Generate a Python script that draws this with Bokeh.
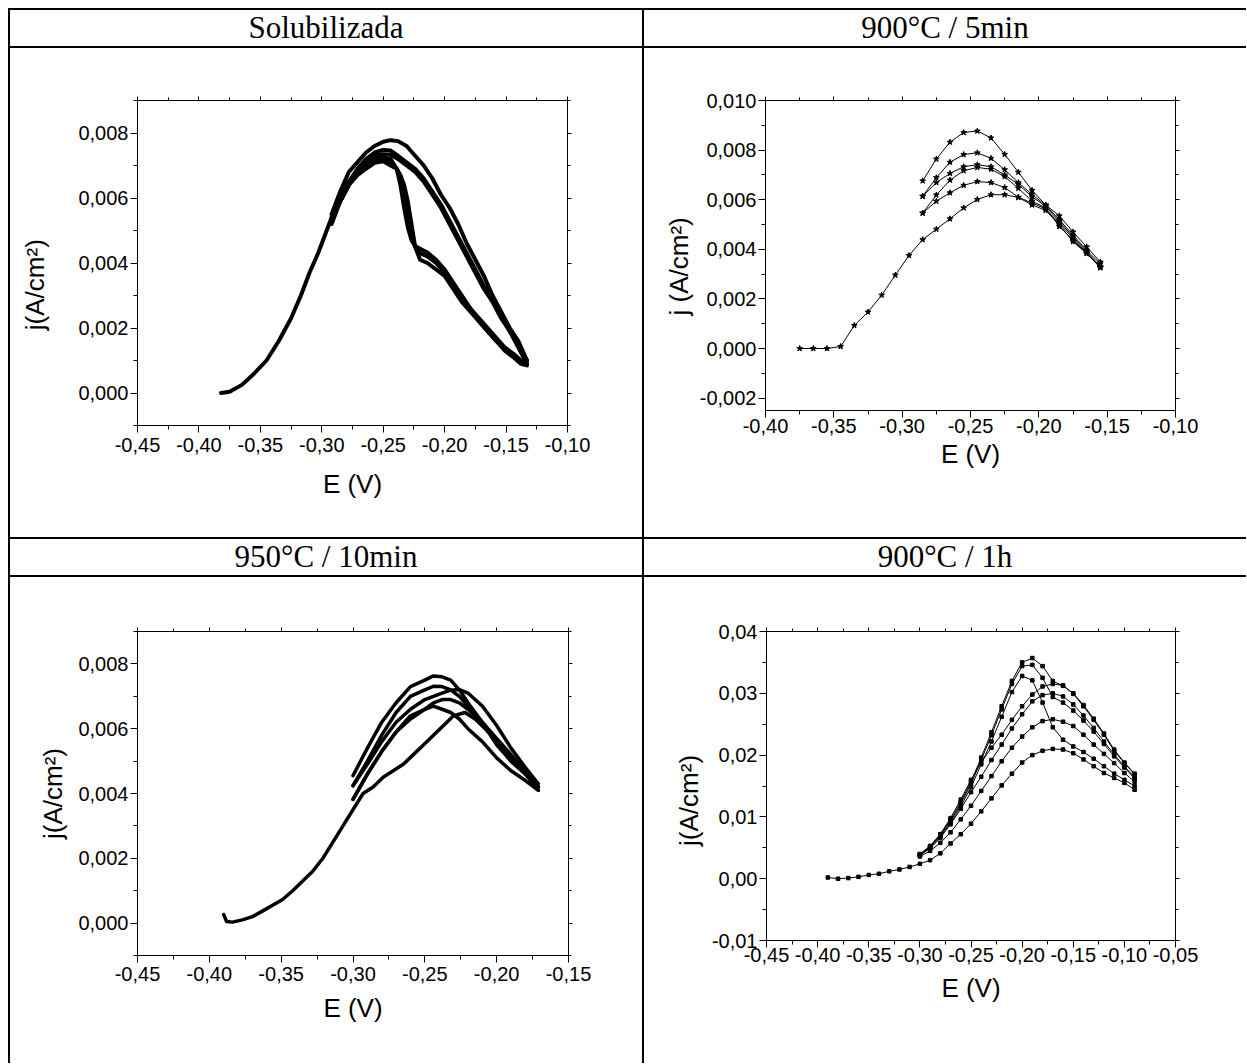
from bokeh.plotting import figure
from bokeh.models import LinearAxis, FixedTicker, CustomJSTickFormatter, Range1d, Div, Spacer
from bokeh.layouts import row, column
from bokeh.embed import file_html
from bokeh.resources import INLINE

# ---------------- titles ----------------
TITLES = ["Solubilizada", "900°C / 5min", "950°C / 10min", "900°C / 1h"]
XLABEL = "E (V)"
YLABELS = ["j(A/cm²)", "j (A/cm²)", "j(A/cm²)", "j(A/cm²)"]

# ---------------- panel 1 : Solubilizada ----------------
SOL_XTICKS = [-0.45, -0.40, -0.35, -0.30, -0.25, -0.20, -0.15, -0.10]
SOL_XMINOR = [-0.425, -0.375, -0.325, -0.275, -0.225, -0.175, -0.125]
SOL_YTICKS = [0.000, 0.002, 0.004, 0.006, 0.008]
SOL_YMINOR = [-0.001, 0.001, 0.003, 0.005, 0.007, 0.009]

sol_base_x = [-0.382, -0.375, -0.365, -0.355, -0.345, -0.335, -0.325, -0.317, -0.310, -0.303, -0.297,
              -0.292, -0.285, -0.278, -0.271, -0.264, -0.257, -0.250, -0.244, -0.239, -0.236, -0.233,
              -0.230, -0.227, -0.224, -0.220, -0.214, -0.207, -0.200, -0.193, -0.186, -0.179, -0.172,
              -0.165, -0.158, -0.151, -0.144, -0.138, -0.133]
sol_base_y = [0.0000, 0.00004, 0.00025, 0.0006, 0.0010, 0.0016, 0.0023, 0.0030, 0.0037, 0.0043, 0.0049,
              0.0054, 0.0059, 0.0064, 0.0067, 0.0069, 0.00708, 0.00713, 0.0070, 0.0069, 0.0067, 0.0064,
              0.0059, 0.0052, 0.0045, 0.0041, 0.0040, 0.0038, 0.0036, 0.0032, 0.0028, 0.0025, 0.0022,
              0.0019, 0.0016, 0.0013, 0.0011, 0.0009, 0.00085]
sol_drop_x = [-0.292, -0.285, -0.278, -0.271, -0.264, -0.257, -0.250, -0.244, -0.239, -0.236, -0.233,
              -0.230, -0.227, -0.224, -0.220, -0.214, -0.207, -0.200, -0.193, -0.186, -0.179, -0.172,
              -0.165, -0.158, -0.151, -0.144, -0.138, -0.133]
sol_drop1_y = [0.0053, 0.0059, 0.0064, 0.0068, 0.0071, 0.00723, 0.00725, 0.0072, 0.0069, 0.0064, 0.0057,
               0.0051, 0.0047, 0.00452, 0.00444, 0.00432, 0.0041, 0.0038, 0.0034, 0.0030, 0.0026, 0.0023,
               0.0020, 0.0017, 0.0014, 0.0012, 0.0010, 0.0009]
sol_drop2_y = [0.0054, 0.0060, 0.0065, 0.0068, 0.0070, 0.00716, 0.0072, 0.0071, 0.0069, 0.0066, 0.0061,
               0.0055, 0.0049, 0.0045, 0.0043, 0.0042, 0.0040, 0.0037, 0.0033, 0.0029, 0.0026, 0.0022,
               0.0019, 0.0016, 0.0014, 0.0012, 0.0010, 0.0009]
sol_smooth_x = [-0.292, -0.285, -0.278, -0.271, -0.264, -0.257, -0.250, -0.244, -0.238, -0.231, -0.224,
                -0.217, -0.210, -0.203, -0.196, -0.189, -0.182, -0.175, -0.168, -0.161, -0.154, -0.147,
                -0.140, -0.133]
sol_smooth1_y = [0.0055, 0.0062, 0.0068, 0.0071, 0.0074, 0.0076, 0.00773, 0.00778, 0.00775, 0.0076, 0.0073,
                 0.0070, 0.0066, 0.0061, 0.0057, 0.0052, 0.0046, 0.0041, 0.0036, 0.0030, 0.0025, 0.0020,
                 0.0016, 0.0010]
sol_smooth2_y = [0.0053, 0.0060, 0.0065, 0.0069, 0.0072, 0.0074, 0.00748, 0.00746, 0.0073, 0.0071, 0.0069,
                 0.0066, 0.0062, 0.0058, 0.0053, 0.0048, 0.0043, 0.0038, 0.0033, 0.0029, 0.0024, 0.0019,
                 0.0015, 0.0010]
sol_smooth3_y = [0.0052, 0.0059, 0.0064, 0.0068, 0.0071, 0.0073, 0.00735, 0.00733, 0.0072, 0.0070, 0.0068,
                 0.0065, 0.0061, 0.0057, 0.0052, 0.0047, 0.0042, 0.0037, 0.0032, 0.0028, 0.0023, 0.0019,
                 0.0014, 0.0009]

# ---------------- panel 2 : 900°C / 5min ----------------
T5_XTICKS = [-0.40, -0.35, -0.30, -0.25, -0.20, -0.15, -0.10]
T5_XMINOR = [-0.375, -0.325, -0.275, -0.225, -0.175, -0.125]
T5_YTICKS = [-0.002, 0.000, 0.002, 0.004, 0.006, 0.008, 0.010]
T5_YMINOR = [-0.001, 0.001, 0.003, 0.005, 0.007, 0.009]

t5_base_x = [-0.375, -0.365, -0.355, -0.345, -0.335, -0.325, -0.315, -0.305, -0.295, -0.285, -0.275,
             -0.265, -0.255, -0.245, -0.235, -0.225, -0.215, -0.205, -0.195, -0.185, -0.175, -0.165, -0.155]
t5_base_y = [0.0000, 0.0000, 0.0000, 0.00008, 0.00093, 0.00147, 0.00215, 0.00296, 0.00375, 0.00439, 0.00481,
             0.00523, 0.00567, 0.00601, 0.00620, 0.00620, 0.00609, 0.00579, 0.00557, 0.00499, 0.00431,
             0.00383, 0.00326]
t5_x = [-0.285, -0.275, -0.265, -0.255, -0.245, -0.235, -0.225, -0.215, -0.205, -0.195, -0.185, -0.175,
        -0.165, -0.155]
t5_a_y = [0.00676, 0.00764, 0.00832, 0.00871, 0.00877, 0.00849, 0.00783, 0.00711, 0.00638, 0.00579, 0.00535,
          0.00470, 0.00410, 0.00349]
t5_b_y = [0.00614, 0.00689, 0.00751, 0.00782, 0.00789, 0.00767, 0.00721, 0.00669, 0.00621, 0.00578, 0.00519,
          0.00458, 0.00396, 0.00342]
t5_c_y = [0.00614, 0.00669, 0.00706, 0.00733, 0.00741, 0.00733, 0.00700, 0.00662, 0.00612, 0.00574, 0.00512,
          0.00451, 0.00390, 0.00331]
t5_d_y = [0.00546, 0.00619, 0.00679, 0.00717, 0.00730, 0.00723, 0.00693, 0.00646, 0.00594, 0.00567, 0.00492,
          0.00437, 0.00383, 0.00328]
t5_e_y = [0.00546, 0.00594, 0.00628, 0.00658, 0.00673, 0.00669, 0.00649, 0.00610, 0.00587, 0.00563, 0.00505,
          0.00444, 0.00386, 0.00326]

# ---------------- panel 3 : 950°C / 10min ----------------
T10_XTICKS = [-0.45, -0.40, -0.35, -0.30, -0.25, -0.20, -0.15]
T10_XMINOR = [-0.425, -0.375, -0.325, -0.275, -0.225, -0.175]
T10_YTICKS = [0.000, 0.002, 0.004, 0.006, 0.008]
T10_YMINOR = [-0.001, 0.001, 0.003, 0.005, 0.007, 0.009]

t10_base_x = [-0.390, -0.388, -0.384, -0.377, -0.370, -0.363, -0.356, -0.349, -0.342, -0.335, -0.328,
              -0.321, -0.314, -0.307, -0.300, -0.293, -0.286, -0.279, -0.272, -0.265, -0.258, -0.251,
              -0.244, -0.237, -0.230, -0.222, -0.215, -0.208, -0.200, -0.190, -0.180, -0.171]
t10_base_y = [0.00026, 0.00005, 0.00003, 0.0001, 0.0002, 0.00037, 0.00055, 0.00073, 0.0010, 0.0013, 0.0016,
              0.0020, 0.0025, 0.0030, 0.0035, 0.0040, 0.0042, 0.0045, 0.0047, 0.0049, 0.0052, 0.0055,
              0.0058, 0.0061, 0.0064, 0.0065, 0.0063, 0.0060, 0.0056, 0.0051, 0.0046, 0.0041]
t10_x = [-0.300, -0.290, -0.280, -0.270, -0.260, -0.250, -0.244, -0.238, -0.232, -0.226, -0.220, -0.210,
         -0.200, -0.190, -0.180, -0.171]
t10_c1_y = [0.00455, 0.0054, 0.0062, 0.0068, 0.0073, 0.0075, 0.00763, 0.0076, 0.0075, 0.0072, 0.0068, 0.0062,
            0.0055, 0.0050, 0.0046, 0.0042]
t10_c2_y = [0.00424, 0.0050, 0.0058, 0.0065, 0.0070, 0.0072, 0.00731, 0.0073, 0.0072, 0.0070, 0.0067, 0.0062,
            0.0056, 0.0050, 0.0046, 0.0042]
t10_c3_y = [0.00424, 0.0049, 0.0056, 0.0062, 0.0066, 0.0069, 0.0070, 0.0071, 0.00719, 0.00721, 0.0071, 0.0067,
            0.0061, 0.0054, 0.0048, 0.0043]
t10_c4_y = [0.00382, 0.0046, 0.0053, 0.0059, 0.0063, 0.0066, 0.0068, 0.0069, 0.0069, 0.0068, 0.0066, 0.0062,
            0.0057, 0.0052, 0.0047, 0.0042]
t10_c5_y = [0.00382, 0.0046, 0.0053, 0.0059, 0.0064, 0.0066, 0.0067, 0.0066, 0.0065, 0.0063, 0.0060, 0.0056,
            0.0051, 0.0047, 0.0044, 0.0041]

# ---------------- panel 4 : 900°C / 1h ----------------
T1H_XTICKS = [-0.45, -0.40, -0.35, -0.30, -0.25, -0.20, -0.15, -0.10, -0.05]
T1H_XMINOR = [-0.425, -0.375, -0.325, -0.275, -0.225, -0.175, -0.125, -0.075]
T1H_YTICKS = [-0.01, 0.00, 0.01, 0.02, 0.03, 0.04]
T1H_YMINOR = [-0.005, 0.005, 0.015, 0.025, 0.035]

t1h_base_x = [-0.39, -0.38, -0.37, -0.36, -0.35, -0.34, -0.33, -0.32, -0.31, -0.30, -0.29, -0.28, -0.27,
              -0.26, -0.25, -0.24, -0.23, -0.22, -0.21, -0.20, -0.19, -0.18, -0.17, -0.16, -0.15, -0.14,
              -0.13, -0.12, -0.11, -0.10, -0.09]
t1h_base_y = [0.0002, 0.0000, 0.0001, 0.0003, 0.0006, 0.0008, 0.0012, 0.0015, 0.0019, 0.0024, 0.0030, 0.0041,
              0.0057, 0.0072, 0.0089, 0.0109, 0.0130, 0.0151, 0.0170, 0.0188, 0.0200, 0.0207, 0.0210, 0.0209,
              0.0203, 0.0193, 0.0182, 0.0171, 0.0163, 0.0155, 0.0144]
t1h_x = [-0.30, -0.29, -0.28, -0.27, -0.26, -0.25, -0.24, -0.23, -0.22, -0.21, -0.20, -0.19, -0.18, -0.17,
         -0.16, -0.15, -0.14, -0.13, -0.12, -0.11, -0.10, -0.09]
t1h_p1_y = [0.0040, 0.0053, 0.0072, 0.0095, 0.0124, 0.0157, 0.0196, 0.0237, 0.0279, 0.0320, 0.0350, 0.0357,
            0.0344, 0.0320, 0.0312, 0.0300, 0.0281, 0.0259, 0.0235, 0.0209, 0.0188, 0.0170]
t1h_p2_y = [0.0039, 0.0051, 0.0070, 0.0093, 0.0121, 0.0153, 0.0192, 0.0232, 0.0274, 0.0315, 0.0344, 0.0346,
            0.0325, 0.0294, 0.0285, 0.0272, 0.0256, 0.0238, 0.0218, 0.0198, 0.0180, 0.0162]
t1h_p3_y = [0.0038, 0.0050, 0.0068, 0.0090, 0.0117, 0.0148, 0.0185, 0.0222, 0.0262, 0.0302, 0.0328, 0.0321,
            0.0285, 0.0245, 0.0225, 0.0214, 0.0205, 0.0194, 0.0182, 0.0170, 0.0160, 0.0150]
t1h_m1_y = [0.0039, 0.0052, 0.0072, 0.0098, 0.0128, 0.0160, 0.0188, 0.0212, 0.0233, 0.0257, 0.0279, 0.0298,
            0.0311, 0.0315, 0.0313, 0.0299, 0.0279, 0.0257, 0.0233, 0.0207, 0.0187, 0.0169]
t1h_m2_y = [0.0038, 0.0049, 0.0066, 0.0088, 0.0113, 0.0140, 0.0165, 0.0192, 0.0217, 0.0243, 0.0266, 0.0287,
            0.0297, 0.0300, 0.0295, 0.0282, 0.0264, 0.0244, 0.0222, 0.0201, 0.0182, 0.0164]
t1h_l1_y = [0.0036, 0.0045, 0.0058, 0.0075, 0.0096, 0.0118, 0.0142, 0.0166, 0.0190, 0.0212, 0.0230, 0.0245,
            0.0255, 0.0258, 0.0254, 0.0247, 0.0233, 0.0217, 0.0202, 0.0187, 0.0171, 0.0157]

# ---------------- styling helpers ----------------
TICK_FONT = "Liberation Sans"
TICK_SIZE = "20px"
LABEL_SIZE = "26px"
NBSP = "\u00a0"


def fmt(dec):
    return CustomJSTickFormatter(code="return tick.toFixed(%d).replace('.', ',');" % dec)


def style_axis(ax, ticker, dec, tick_standoff, label_standoff):
    ax.ticker = ticker
    ax.formatter = fmt(dec)
    ax.major_tick_out = 7
    ax.major_tick_in = 0
    ax.minor_tick_out = 4
    ax.minor_tick_in = 0
    ax.axis_line_color = "black"
    ax.major_tick_line_color = "black"
    ax.minor_tick_line_color = "black"
    ax.major_label_text_font = TICK_FONT
    ax.major_label_text_font_size = TICK_SIZE
    ax.major_label_text_color = "black"
    ax.major_label_standoff = tick_standoff
    ax.axis_label_text_font = TICK_FONT
    ax.axis_label_text_font_size = LABEL_SIZE
    ax.axis_label_text_font_style = "normal"
    ax.axis_label_text_color = "black"
    ax.axis_label_standoff = label_standoff


def mirror_axis(ticker):
    return LinearAxis(ticker=ticker, formatter=CustomJSTickFormatter(code="return '';"),
                      major_tick_out=4, major_tick_in=0, minor_tick_out=3, minor_tick_in=0,
                      major_label_text_font_size="1px", major_label_standoff=0,
                      axis_line_color="black", major_tick_line_color="black",
                      minor_tick_line_color="black")


def make_fig(w, h, borders, xr, yr, xt, xm, yt, ym, xdec, ydec, ylabel, stand):
    L, R, T, B = borders
    p = figure(frame_width=w - L - R, frame_height=h - T - B,
               x_range=Range1d(*xr), y_range=Range1d(*yr),
               output_backend="svg", toolbar_location=None,
               min_border_left=L, min_border_right=R, min_border_top=T, min_border_bottom=B,
               background_fill_color="white", border_fill_color="white")
    p.title.visible = False
    p.xgrid.visible = False
    p.ygrid.visible = False
    p.outline_line_color = "black"
    xtick = FixedTicker(ticks=xt, minor_ticks=xm)
    ytick = FixedTicker(ticks=yt, minor_ticks=ym)
    style_axis(p.xaxis[0], xtick, xdec, stand[0], stand[1])
    style_axis(p.yaxis[0], ytick, ydec, stand[2], stand[3])
    p.xaxis[0].axis_label = XLABEL
    p.yaxis[0].axis_label = ylabel
    p.add_layout(mirror_axis(xtick), "above")
    p.add_layout(mirror_axis(ytick), "right")
    return p


# geometry of the table (page pixels)
W1, W2 = 632, 602          # cell widths
H1, H2 = 489, 486          # plot row heights
HH = 36                    # header row height

# ---------------- panel 1 ----------------
p1 = make_fig(W1, H1, (127, 75, 52, 112), (-0.45, -0.10), (-0.001, 0.009),
              SOL_XTICKS, SOL_XMINOR, SOL_YTICKS, SOL_YMINOR, 2, 3, YLABELS[0] + NBSP * 6,
              (5, 14, 2, 25))
for xs, ys in [(sol_base_x, sol_base_y), (sol_drop_x, sol_drop1_y), (sol_drop_x, sol_drop2_y),
               (sol_smooth_x, sol_smooth1_y), (sol_smooth_x, sol_smooth2_y), (sol_smooth_x, sol_smooth3_y)]:
    p1.line(xs, ys, line_color="black", line_width=4, line_join="round", line_cap="round")

# ---------------- panel 2 ----------------
p2 = make_fig(W2, H1, (121, 71, 49, 130), (-0.40, -0.10), (-0.0025, 0.010),
              T5_XTICKS, T5_XMINOR, T5_YTICKS, T5_YMINOR, 2, 3, YLABELS[1] + NBSP * 3,
              (1, 3, 2, 3))
for xs, ys in [(t5_base_x, t5_base_y), (t5_x, t5_a_y), (t5_x, t5_b_y), (t5_x, t5_c_y),
               (t5_x, t5_d_y), (t5_x, t5_e_y)]:
    p2.line(xs, ys, line_color="black", line_width=1)
    p2.scatter(xs, ys, marker="star", size=6, fill_color="black", line_color="black")

# ---------------- panel 3 ----------------
p3 = make_fig(W1, H2, (127, 74, 54, 108), (-0.45, -0.15), (-0.001, 0.009),
              T10_XTICKS, T10_XMINOR, T10_YTICKS, T10_YMINOR, 2, 3, YLABELS[2],
              (4, 9, 2, 7))
for xs, ys in [(t10_base_x, t10_base_y), (t10_x, t10_c1_y), (t10_x, t10_c2_y), (t10_x, t10_c3_y),
               (t10_x, t10_c4_y), (t10_x, t10_c5_y)]:
    p3.line(xs, ys, line_color="black", line_width=3.5, line_join="round", line_cap="round")

# ---------------- panel 4 ----------------
p4 = make_fig(W2, H2, (122, 71, 50, 127), (-0.45, -0.05), (-0.01, 0.04),
              T1H_XTICKS, T1H_XMINOR, T1H_YTICKS, T1H_YMINOR, 2, 2, YLABELS[3] + NBSP * 4,
              (0, 8, 2, 5))
for xs, ys in [(t1h_base_x, t1h_base_y), (t1h_x, t1h_p1_y), (t1h_x, t1h_p2_y), (t1h_x, t1h_p3_y),
               (t1h_x, t1h_m1_y), (t1h_x, t1h_m2_y), (t1h_x, t1h_l1_y)]:
    p4.line(xs, ys, line_color="black", line_width=1)
    p4.scatter(xs, ys, marker="square", size=3.5, fill_color="black", line_color="black")

# ---------------- table layout ----------------
HEAD_STYLE = {"font-family": "Liberation Serif", "font-size": "31px", "text-align": "center",
              "line-height": "36px", "color": "black", "white-space": "nowrap"}


def head(text, w):
    return Div(text=text, width=w, height=HH, margin=0, styles=HEAD_STYLE)


def bar(w, h):
    return Spacer(width=w, height=h, styles={"background-color": "black"})


TOTAL_W = 2 + W1 + 2 + W2

table = column(
    bar(TOTAL_W, 2),
    row(bar(2, HH), head(TITLES[0], W1), bar(2, HH), head(TITLES[1], W2)),
    bar(TOTAL_W, 2),
    row(bar(2, H1), p1, bar(2, H1), p2),
    bar(TOTAL_W, 2),
    row(bar(2, HH), head(TITLES[2], W1), bar(2, HH), head(TITLES[3], W2)),
    bar(TOTAL_W, 2),
    row(bar(2, H2), p3, bar(2, H2), p4),
)

page = row(Spacer(width=8, height=8), column(Spacer(width=8, height=8), table))

open("out.html", "w").write(file_html(page, INLINE, title="Polarização"))
